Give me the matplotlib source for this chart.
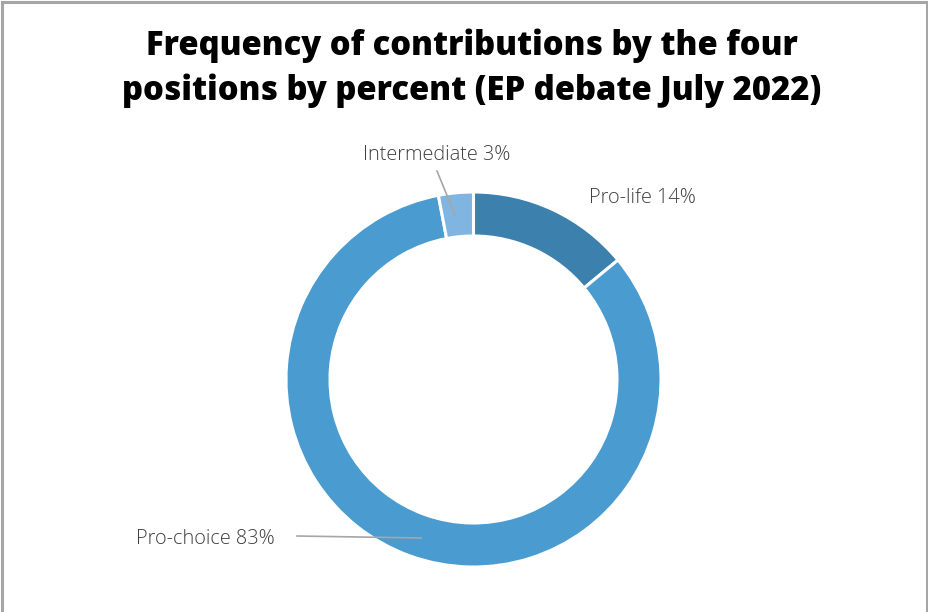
import matplotlib
matplotlib.use("Agg")
import matplotlib.pyplot as plt
from matplotlib.lines import Line2D

# Share of contributions per position (percent), clockwise from 12 o'clock
positions = ["Pro-life", "Pro-choice", "Intermediate"]
shares = [14, 83, 3]
colors = ["#3c80ad", "#4a9bd0", "#7fb5e0"]

title = "Frequency of contributions by the four\npositions by percent (EP debate July 2022)"

W, H = 929, 612
fig = plt.figure(figsize=(W / 100, H / 100), dpi=100)
ax = fig.add_axes([0, 0, 1, 1])

cx, cy = 473.5, H - 379.5
r_out = 187.5
ring = 44

ax.pie(
    shares, colors=colors, startangle=90, counterclock=False,
    radius=r_out, center=(cx, cy), frame=True,
    wedgeprops=dict(width=ring, edgecolor="white", linewidth=2.2),
)
ax.set_xlim(0, W)
ax.set_ylim(0, H)
ax.set_aspect("equal")
ax.axis("off")

label_font = dict(family=["Open Sans", "DejaVu Sans"], fontweight="light",
                  fontsize=14.3, color="#404040")
leader = dict(color="#a6a6a6", lw=1.2)

# Pro-life
ax.text(642, H - 198, f"{positions[0]} {shares[0]}%", ha="center", va="center", **label_font)
# Pro-choice with leader line
ax.text(205, H - 539, f"{positions[1]} {shares[1]}%", ha="center", va="center", **label_font)
ax.plot([297, 421], [H - 536, H - 538], **leader)
# Intermediate with leader line
ax.text(437, H - 155, f"{positions[2]} {shares[2]}%", ha="center", va="center", **label_font)
ax.plot([437, 455], [H - 171, H - 215], **leader)

fig.text(472 / W, 1 - 68 / H, title, ha="center", va="center",
         family=["Open Sans", "DejaVu Sans"], fontweight="heavy",
         fontsize=23.6, color="black", linespacing=1.38)

# Grey frame on left, top and right edges
frame_kw = dict(color="#a6a6a6", lw=2.2, transform=fig.transFigure)
fig.add_artist(Line2D([2 / W, 2 / W], [0, 1 - 2 / H], **frame_kw))
fig.add_artist(Line2D([2 / W, 1 - 2 / W], [1 - 2 / H, 1 - 2 / H], **frame_kw))
fig.add_artist(Line2D([1 - 2 / W, 1 - 2 / W], [0, 1 - 2 / H], **frame_kw))

fig.savefig("out.png", dpi=100, facecolor="white")
